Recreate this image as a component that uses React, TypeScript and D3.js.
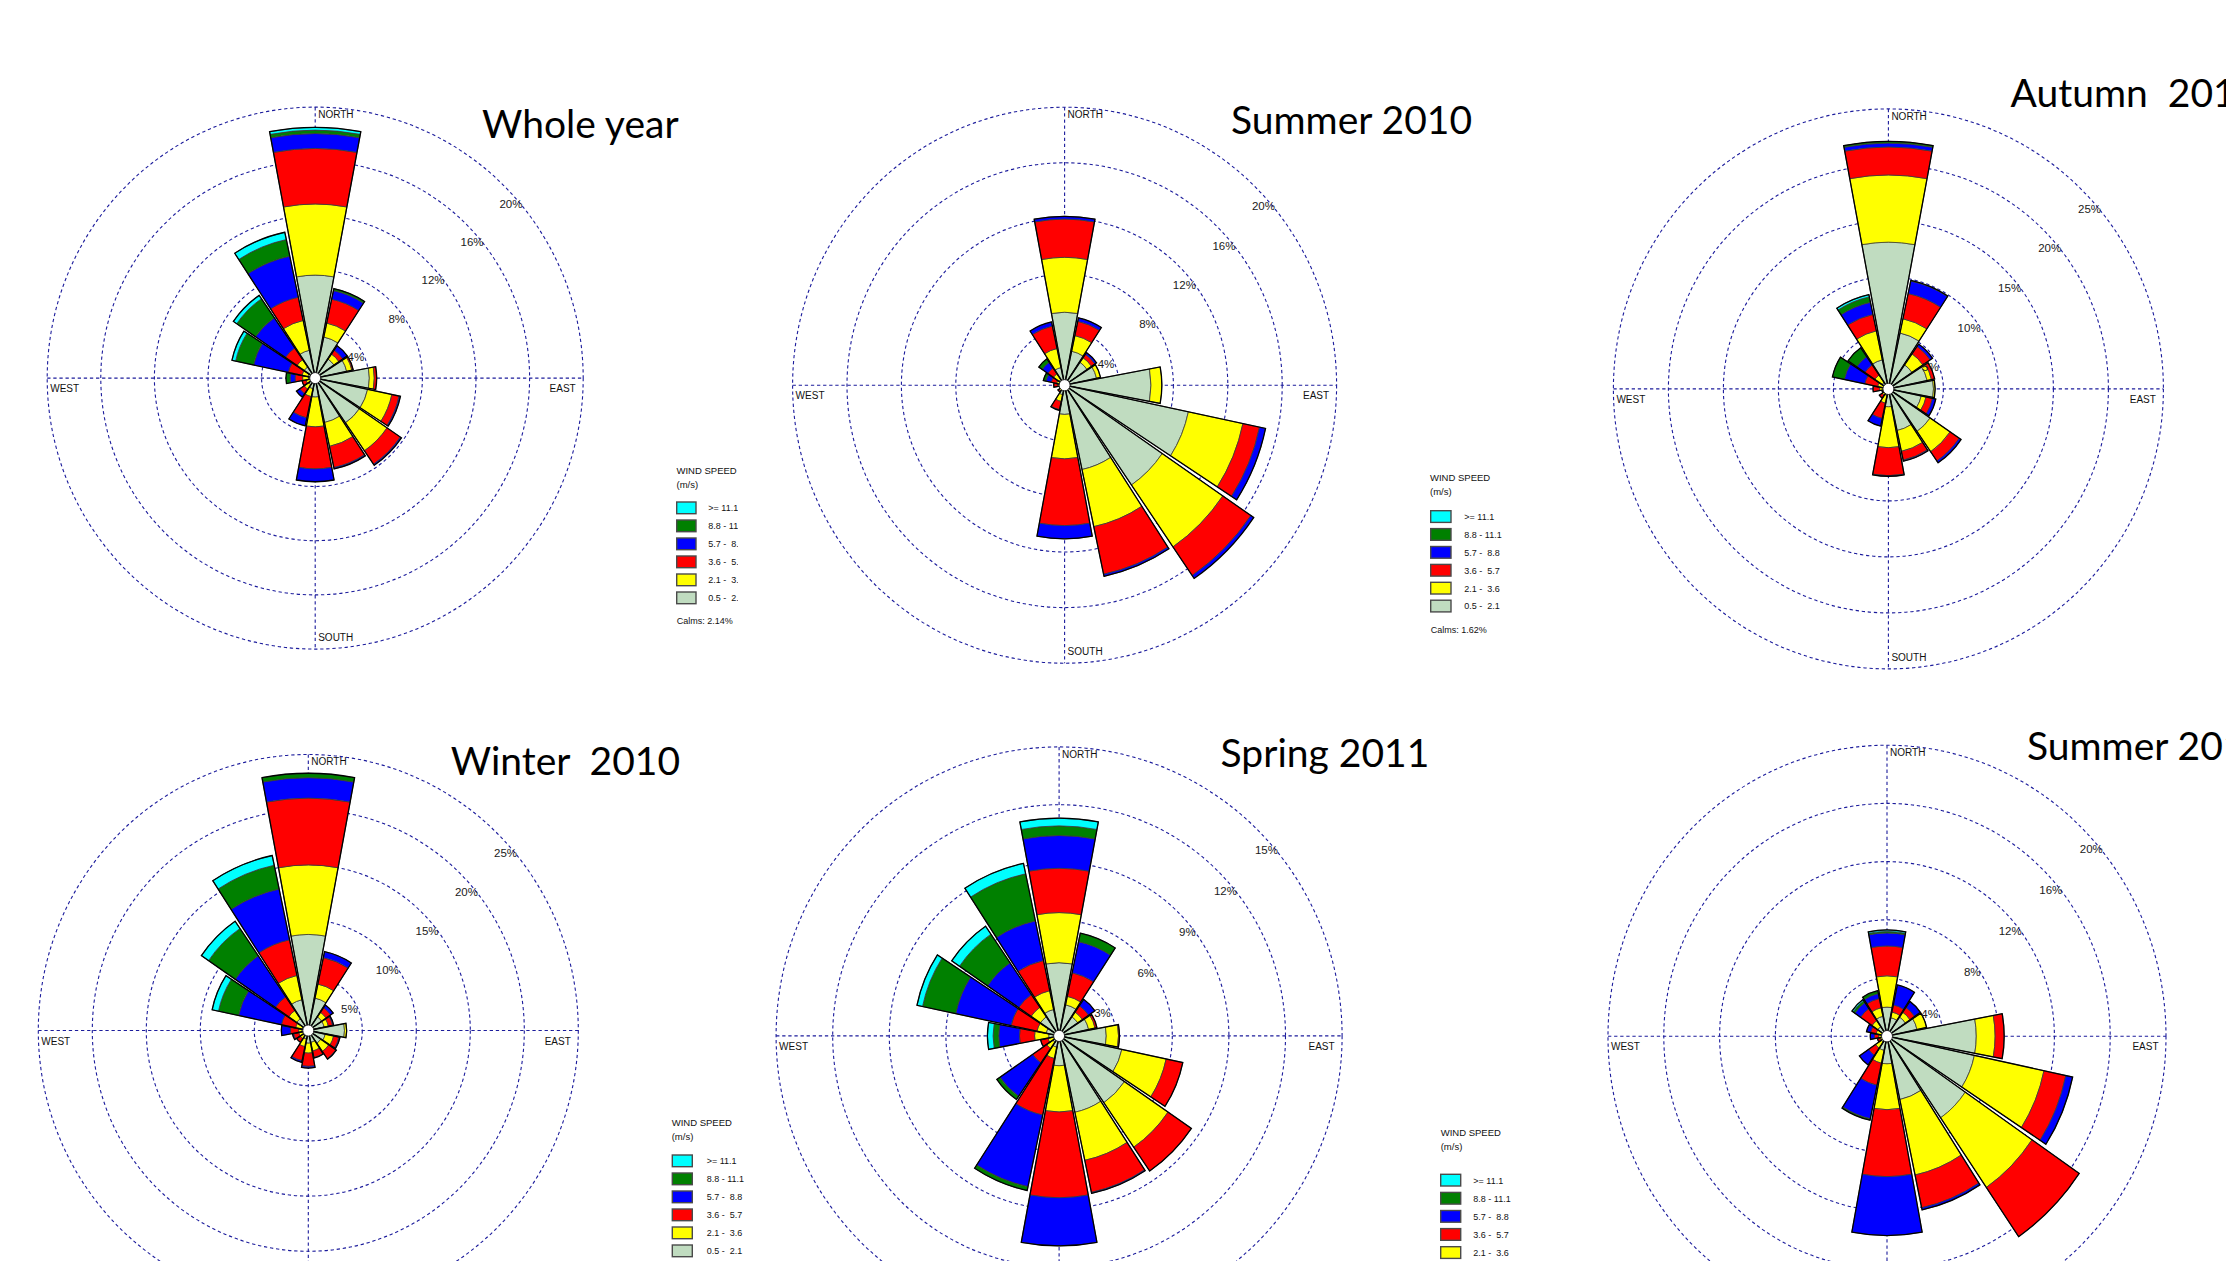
import React from 'react';
import * as d3 from 'd3';

// ---------- data ----------
const DIRECTIONS = ['N', 'NNE', 'NE', 'ENE', 'E', 'ESE', 'SE', 'SSE', 'S', 'SSW', 'SW', 'WSW', 'W', 'WNW', 'NW', 'NNW'];

// speed classes, from the centre outwards
const SPEED_CLASSES = ['0.5 -  2.1', '2.1 -  3.6', '3.6 -  5.7', '5.7 -  8.8', '8.8 - 11.1', '>= 11.1'];
const CLASS_COLORS = ['#C0DCC0', '#FFFF00', '#FF0000', '#0000FF', '#008000', '#00FFFF'];

// cumulative frequency (%) at the outer edge of each speed class, per direction (N, NNE, ... NNW)
const WHOLE_YEAR = [
  [7.6, 12.85, 16.95, 18.05, 18.3, 18.5],
  [3.1, 4.15, 5.95, 6.6, 6.75],
  [1.7, 2.15, 2.5, 2.9],
  [2.4, 2.8, 2.9],
  [4.04, 4.41, 4.59],
  [4.0, 5.85, 6.4, 6.5],
  [4.0, 6.5, 7.7, 7.8],
  [3.35, 5.15, 6.75, 6.85],
  [1.4, 3.6, 6.7, 7.65],
  [0.8, 1.4, 3.0, 3.6],
  [0.6, 1.0, 1.4, 1.7],
  [0.4, 0.7, 1.0],
  [0.5, 0.94, 1.5, 1.88, 2.18],
  [0.55, 1.0, 2.05, 4.7, 6.07, 6.35],
  [1.0, 1.65, 2.7, 5.4, 7.1, 7.4],
  [2.1, 4.35, 6.1, 9.2, 10.45, 11.0],
];
const SUMMER_2010 = [
  [5.25, 9.2, 11.95, 12.15],
  [2.5, 3.65, 4.7, 4.95],
  [2.0, 2.4, 2.7, 2.85],
  [2.4, 2.7],
  [6.35, 7.15],
  [9.3, 13.4, 14.65, 15.1],
  [8.7, 14.1, 16.6, 16.85],
  [6.2, 10.4, 13.9, 14.05],
  [2.1, 5.3, 10.1, 11.05],
  [0.7, 1.2, 1.8, 1.85],
  [0.3, 0.5, 0.6],
  [0.2, 0.3, 0.4],
  [0.3, 0.5, 0.8],
  [0.3, 0.6, 1.0, 1.4, 1.6],
  [0.5, 1.0, 1.5, 2.0, 2.3],
  [1.3, 2.7, 4.35, 4.65],
];
const AUTUMN_2010 = [
  [13.1, 19.1, 21.6, 21.95, 22.1],
  [5.1, 6.4, 8.7, 9.85, 9.9],
  [2.6, 3.8, 4.6, 4.85],
  [3.6, 4.0, 4.3],
  [4.1, 4.25],
  [3.05, 3.5, 4.1, 4.4],
  [4.6, 6.8, 7.8, 8.0],
  [3.8, 5.7, 6.5, 6.6],
  [1.6, 5.25, 7.75, 7.8],
  [0.6, 1.3, 2.7, 3.4],
  [0.4, 0.7, 1.0],
  [0.3, 0.5, 0.6],
  [0.4, 0.8, 1.4],
  [0.5, 1.0, 2.2, 4.1, 5.2],
  [0.7, 1.5, 2.6, 3.5, 4.45],
  [2.65, 5.3, 6.8, 7.9, 8.4, 8.6],
];
const WINTER_2010 = [
  [8.7, 15.0, 21.05, 22.9, 23.3],
  [3.0, 4.3, 6.75, 7.3],
  [1.5, 2.0, 2.5, 2.8],
  [1.5, 1.9, 2.3, 2.4],
  [3.35, 3.55],
  [1.6, 2.4, 2.9, 3.0],
  [1.4, 2.3, 3.1, 3.15],
  [1.1, 1.9, 2.5, 2.55],
  [1.15, 2.05, 3.25, 3.4],
  [0.8, 1.5, 2.8, 2.95],
  [0.6, 0.9, 1.3],
  [0.5, 0.9, 1.4, 1.5],
  [0.6, 0.9, 1.65, 2.5],
  [0.6, 1.2, 2.55, 6.6, 8.5, 9.1],
  [1.3, 2.2, 3.7, 8.2, 11.2, 12.0],
  [2.85, 5.1, 8.4, 13.1, 15.3, 16.2],
];
const SPRING_2011 = [
  [3.8, 6.4, 8.7, 10.4, 10.9, 11.3],
  [1.65, 2.1, 3.35, 5.0, 5.45],
  [1.2, 1.5, 1.9, 2.3],
  [1.6, 1.95, 2.05],
  [2.5, 3.15, 3.2],
  [3.4, 5.8, 6.7],
  [4.2, 7.0, 8.5],
  [4.05, 6.6, 8.3, 8.35],
  [1.55, 3.95, 8.4, 10.9],
  [0.6, 1.2, 4.2, 8.0, 8.2],
  [0.4, 0.8, 1.7, 3.8, 4.0],
  [0.3, 0.6, 1.0],
  [0.55, 1.3, 2.1, 3.2, 3.5, 3.8],
  [0.7, 1.2, 2.6, 5.6, 7.4, 7.7],
  [1.2, 1.8, 2.6, 4.6, 6.4, 6.9],
  [1.4, 2.4, 4.0, 6.1, 8.6, 9.15],
];
const SUMMER_2011 = [
  [2.0, 4.15, 6.2, 7.1, 7.2, 7.3],
  [1.3, 1.7, 2.2, 3.6],
  [1.6, 2.0, 2.4, 2.9],
  [2.2, 2.9],
  [6.4, 7.75, 8.4],
  [6.4, 11.5, 13.1, 13.6],
  [6.8, 12.6, 16.7],
  [4.45, 9.75, 12.05, 12.2],
  [1.9, 5.05, 9.65, 13.7],
  [1.0, 1.9, 3.45, 5.8, 5.9],
  [0.5, 1.0, 1.6, 2.4],
  [0.3, 0.5, 0.7],
  [0.3, 0.6, 0.9, 1.2],
  [0.4, 0.8, 1.2, 1.5],
  [0.8, 1.3, 2.3, 2.8, 2.95, 3.05],
  [1.4, 2.0, 2.65, 3.0, 3.2],
];

const TICKS_4 = [4, 8, 12, 16, 20];
const TICKS_5 = [5, 10, 15, 20, 25];
const TICKS_3 = [3, 6, 9, 12, 15];

const TITLES = ['Whole year', 'Summer 2010', 'Autumn  2010', 'Winter  2010', 'Spring 2011', 'Summer 2011'];
const CALMS = ['Calms: 2.14%', 'Calms: 1.62%'];

// ---------- layout ----------
const W = 2226;
const H = 1261;

const ROSES = [
  { title: TITLES[0], data: WHOLE_YEAR, ticks: TICKS_4, cx: 315.2, cy: 378.1, rx: 268, ry: 271, tx: 482, ty: 137.5 },
  { title: TITLES[1], data: SUMMER_2010, ticks: TICKS_4, cx: 1064.6, cy: 385.2, rx: 272, ry: 278, tx: 1231, ty: 133.5 },
  { title: TITLES[2], data: AUTUMN_2010, ticks: TICKS_5, cx: 1888.4, cy: 388.9, rx: 275, ry: 280, tx: 2010.6, ty: 107 },
  { title: TITLES[3], data: WINTER_2010, ticks: TICKS_5, cx: 308.3, cy: 1030.5, rx: 270, ry: 276, tx: 450.7, ty: 775.4 },
  { title: TITLES[4], data: SPRING_2011, ticks: TICKS_3, cx: 1059.1, cy: 1035.9, rx: 283, ry: 289, tx: 1220.6, ty: 766.5 },
  { title: TITLES[5], data: SUMMER_2011, ticks: TICKS_4, cx: 1887, cy: 1036.2, rx: 279, ry: 291, tx: 2027, ty: 759.7 },
];

const LEGENDS = [
  { x: 676.5, titleY: 474.2, boxX: 676.7, boxW: 19.3, top: 502, step: 18.0, labelX: 708.3, calms: CALMS[0], calmsY: 623.5, clip: 738 },
  { x: 1430, titleY: 481.4, boxX: 1430.7, boxW: 20.3, top: 510.7, step: 17.9, labelX: 1464.3, calms: CALMS[1], calmsY: 633.3, clip: null },
  { x: 671.7, titleY: 1126.4, boxX: 672.3, boxW: 20, top: 1155, step: 18.0, labelX: 706.7, calms: null, calmsY: 0, clip: null },
  { x: 1440.7, titleY: 1136, boxX: 1440.7, boxW: 20, top: 1174.3, step: 18.1, labelX: 1473.3, calms: null, calmsY: 0, clip: null },
];

const RING_COLOR = '#1c1c9c';
const LABEL_FONT = '"Liberation Sans", Arial, sans-serif';

function Rose({ cfg }: { cfg: any }) {
  const max = cfg.ticks[cfg.ticks.length - 1];
  const r = d3.scaleLinear().domain([0, max]).range([0, cfg.rx]);
  const ky = cfg.ry / cfg.rx;
  const R = cfg.rx;
  const arc = d3.arc<any>();
  const half = (10.6 * Math.PI) / 180;
  const angle = d3.scaleLinear().domain([0, DIRECTIONS.length]).range([0, 2 * Math.PI]);

  const bars = cfg.data.map((stack: number[], i: number) => {
    const a = angle(i);
    const segs = stack.map((top: number, j: number) => {
      const inner = j === 0 ? 0 : stack[j - 1];
      const d = arc({ innerRadius: r(inner), outerRadius: r(top), startAngle: a - half, endAngle: a + half });
      return <path key={j} d={d || ''} fill={CLASS_COLORS[j]} stroke="#3a3a3a" strokeWidth={0.8} vectorEffect="non-scaling-stroke" />;
    });
    const outline = arc({ innerRadius: 0, outerRadius: r(stack[stack.length - 1]), startAngle: a - half, endAngle: a + half });
    return (
      <g key={DIRECTIONS[i]}>
        {segs}
        <path d={outline || ''} fill="none" stroke="#000" strokeWidth={1.3} vectorEffect="non-scaling-stroke" />
      </g>
    );
  });

  const pctLabels = cfg.ticks.map((t: number) => {
    const rr = r(t);
    const yc = -(0.707 * rr - 0.063 * R);
    const xe = Math.sqrt(Math.max(rr * rr - yc * yc, 0)) + 0.012 * rr - 1;
    return (
      <text key={t} x={xe} y={yc * ky + 4.2} textAnchor="end" fontSize={11.5} fontFamily={LABEL_FONT} fill="#1a1a1a">
        {t}%
      </text>
    );
  });

  return (
    <g transform={`translate(${cfg.cx},${cfg.cy})`}>
      <g transform={`scale(1,${ky})`}>
        {cfg.ticks.map((t: number) => (
          <circle key={t} r={r(t)} fill="none" stroke={RING_COLOR} strokeWidth={1.1} strokeDasharray="3.3 2.8" vectorEffect="non-scaling-stroke" />
        ))}
        <line x1={-R} x2={R} y1={0} y2={0} stroke={RING_COLOR} strokeWidth={1.1} strokeDasharray="3.3 2.8" vectorEffect="non-scaling-stroke" />
        <line x1={0} x2={0} y1={-R} y2={R} stroke={RING_COLOR} strokeWidth={1.1} strokeDasharray="3.3 2.8" vectorEffect="non-scaling-stroke" />
        {bars}
        <circle r={5.5} fill="#fff" stroke="#222" strokeWidth={1} vectorEffect="non-scaling-stroke" />
      </g>
      {pctLabels}
      <text x={3} y={-0.974 * cfg.ry + 3.6} fontSize={10} fontFamily={LABEL_FONT} fill="#111">NORTH</text>
      <text x={3} y={0.958 * cfg.ry + 3.6} fontSize={10} fontFamily={LABEL_FONT} fill="#111">SOUTH</text>
      <text x={-R + 3} y={14.2} fontSize={10} fontFamily={LABEL_FONT} fill="#111">WEST</text>
      <text x={R - 7.5} y={14.2} fontSize={10} fontFamily={LABEL_FONT} fill="#111" textAnchor="end">EAST</text>
      <text
        x={cfg.tx - cfg.cx}
        y={cfg.ty - cfg.cy}
        fontSize={39}
        fontFamily="Lato, 'Open Sans', sans-serif"
        fill="#000"
        style={{ whiteSpace: 'pre' }}
      >
        {cfg.title}
      </text>
    </g>
  );
}

function Legend({ cfg, idx }: { cfg: any; idx: number }) {
  const rows = SPEED_CLASSES.map((_, j) => SPEED_CLASSES.length - 1 - j); // top row = strongest class
  const content = (
    <g>
      <text x={cfg.x} y={cfg.titleY} fontSize={9.5} fontFamily={LABEL_FONT} fill="#111">WIND SPEED</text>
      <text x={cfg.x} y={cfg.titleY + 13.6} fontSize={9.5} fontFamily={LABEL_FONT} fill="#111">(m/s)</text>
      {rows.map((k, j) => {
        const y = cfg.top + j * cfg.step;
        return (
          <g key={k}>
            <rect x={cfg.boxX} y={y} width={cfg.boxW} height={11.7} fill={CLASS_COLORS[k]} stroke="#4a4a4a" strokeWidth={1.4} />
            <text x={cfg.labelX} y={y + 9.2} fontSize={9} fontFamily={LABEL_FONT} fill="#111" style={{ whiteSpace: 'pre' }}>
              {SPEED_CLASSES[k]}
            </text>
          </g>
        );
      })}
      {cfg.calms && (
        <text x={cfg.boxX} y={cfg.calmsY} fontSize={9} fontFamily={LABEL_FONT} fill="#111">{cfg.calms}</text>
      )}
    </g>
  );
  if (cfg.clip) {
    return (
      <g>
        <clipPath id={`legclip${idx}`}>
          <rect x={0} y={0} width={cfg.clip} height={H} />
        </clipPath>
        <g clipPath={`url(#legclip${idx})`}>{content}</g>
      </g>
    );
  }
  return content;
}

export default function App() {
  return (
    <svg
      width={W}
      height={H}
      viewBox={`0 0 ${W} ${H}`}
      style={{ position: 'absolute', left: 0, top: 0, display: 'block', background: '#fff' }}
    >
      <rect x={0} y={0} width={W} height={H} fill="#fff" />
      {ROSES.map((cfg, i) => (
        <Rose key={i} cfg={cfg} />
      ))}
      {LEGENDS.map((cfg, i) => (
        <Legend key={i} cfg={cfg} idx={i} />
      ))}
    </svg>
  );
}
